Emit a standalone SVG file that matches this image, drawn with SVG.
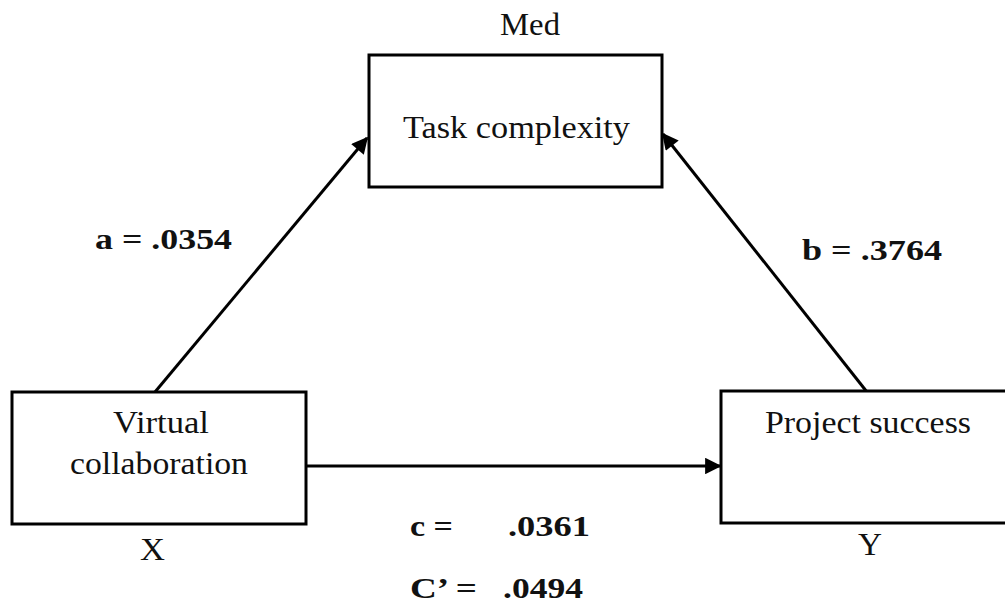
<svg xmlns="http://www.w3.org/2000/svg" width="1005" height="606" viewBox="0 0 1005 606">
<style>
.box{fill:#fff;stroke:#000;stroke-width:3}
.t{font-family:"Liberation Serif","Times New Roman",serif;font-size:31px;fill:#111}
.b{font-family:"Liberation Serif","Times New Roman",serif;font-size:29px;font-weight:bold;fill:#111}
.c{stroke:#000;stroke-width:3;fill:none;marker-end:url(#ah)}
</style>
<defs>
<marker id="ah" viewBox="0 0 10 10" refX="9" refY="5" markerWidth="6" markerHeight="5.5" markerUnits="strokeWidth" orient="auto">
<path d="M0,0 L10,5 L0,10 z" fill="#000"/>
</marker>
</defs>
<rect width="1005" height="606" fill="#fff"/>
<g id="connectors">
<line class="c" x1="155" y1="392" x2="367" y2="138"/>
<line class="c" x1="867" y1="392" x2="663" y2="134"/>
<line class="c" x1="306" y1="466" x2="720" y2="466"/>
</g>
<g id="node-med">
<rect class="box" x="369" y="55" width="293" height="132"/>
<text class="t" x="500" y="35" textLength="60" lengthAdjust="spacingAndGlyphs">Med</text>
<text class="t" x="403" y="138" textLength="227" lengthAdjust="spacingAndGlyphs">Task complexity</text>
</g>
<g id="node-x">
<rect class="box" x="12" y="392" width="294" height="132"/>
<text class="t" x="113" y="433" textLength="96" lengthAdjust="spacingAndGlyphs">Virtual</text>
<text class="t" x="70" y="474" textLength="178" lengthAdjust="spacingAndGlyphs">collaboration</text>
<text class="t" x="140" y="560" textLength="25" lengthAdjust="spacingAndGlyphs">X</text>
</g>
<g id="node-y">
<rect class="box" x="721" y="391" width="290" height="132"/>
<text class="t" x="765" y="433" textLength="206" lengthAdjust="spacingAndGlyphs">Project success</text>
<text class="t" x="858" y="555" textLength="24" lengthAdjust="spacingAndGlyphs">Y</text>
</g>
<g id="labels">
<text class="b" x="95" y="249" textLength="137" lengthAdjust="spacingAndGlyphs">a = .0354</text>
<text class="b" x="802" y="260" textLength="140" lengthAdjust="spacingAndGlyphs">b = .3764</text>
<text class="b" x="410" y="536" textLength="43" lengthAdjust="spacingAndGlyphs">c =</text>
<text class="b" x="508" y="536" textLength="82" lengthAdjust="spacingAndGlyphs">.0361</text>
<text class="b" x="410" y="598" textLength="67" lengthAdjust="spacingAndGlyphs">C’ =</text>
<text class="b" x="503" y="598" textLength="80" lengthAdjust="spacingAndGlyphs">.0494</text>
</g>
</svg>
